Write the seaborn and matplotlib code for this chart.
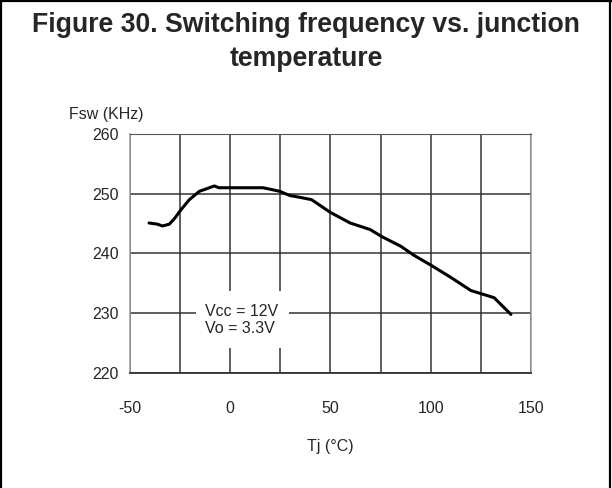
import matplotlib
matplotlib.use("Agg")
import numpy as np
import pandas as pd
import seaborn as sns
import matplotlib.pyplot as plt
from matplotlib.patches import Rectangle
from matplotlib.lines import Line2D

# valores (Tj em °C, Fsw em kHz)
tj = [-40.5, -36.3, -33.8, -30.4, -27.9, -24.6, -20.4, -15.4, -11.2, -7.9, -5.7,
      1.3, 16.3, 20.6, 24.7, 29.7, 34.7, 40.6, 49.8, 59.8, 69.8, 75.7, 85.1,
      91.6, 100.3, 110.0, 120.0, 125.8, 131.6, 140.0]
fsw = [245.1, 244.9, 244.6, 244.9, 245.8, 247.3, 249.0, 250.4, 250.9, 251.3, 251.0,
       251.0, 251.0, 250.7, 250.4, 249.7, 249.4, 249.0, 246.9, 245.1, 244.0, 242.8, 241.2,
       239.7, 238.0, 236.0, 233.8, 233.2, 232.6, 229.8]

xticks = [-50, 0, 50, 100, 150]
yticks = [220, 230, 240, 250, 260]

dados = pd.DataFrame({"Tj": tj, "Fsw": fsw})

sns.set_style("white")
plt.rcParams['font.family'] = ['Liberation Sans', 'DejaVu Sans']
plt.rcParams['axes.unicode_minus'] = False  # o original usa hifen simples

fig = plt.figure(figsize=(6.12, 4.88), dpi=100)
ax = fig.add_axes([0.2124, 0.2357, 0.6552, 0.4898])

sns.lineplot(data=dados, x="Tj", y="Fsw", ax=ax, color="black", linewidth=2.2, zorder=3)

ax.set_xlim(-50, 150)
ax.set_ylim(220, 260)
ax.set_xticks(xticks)
ax.set_xticks(np.arange(-50, 151, 25), minor=True)
ax.set_yticks(yticks)
ax.set_axisbelow(True)
ax.grid(True, which="both", color="#333333", linewidth=1.1)
ax.tick_params(axis="x", which="major", direction="out", length=5, width=1,
               color="#333333", pad=15, labelsize=11.5)
ax.tick_params(axis="x", which="minor", length=0)
ax.tick_params(axis="y", length=0, pad=8, labelsize=11.5)

for lado in ["left", "right"]:
    ax.spines[lado].set_color("#999999")
    ax.spines[lado].set_linewidth(1.1)
ax.spines["top"].set_color("#555555")
ax.spines["bottom"].set_color("#333333")
ax.spines["bottom"].set_linewidth(1.3)

# caixa branca com as condicoes de teste, cortando a grade
ax.add_patch(Rectangle((-17, 224.1), 46.4, 9.7, facecolor="white",
                       edgecolor="none", zorder=1.5))
ax.text(-12.4, 228.8, "Vcc = 12V\nVo = 3.3V", ha="left", va="center",
        fontsize=11.5, linespacing=1.15, zorder=4)

ax.set_xlabel("Tj (°C)", fontsize=11.5)
ax.xaxis.set_label_coords(0.5, -0.275)
ax.set_ylabel("")
fig.text(106 / 612, 1 - 114 / 488, "Fsw (KHz)", ha="center", va="center", fontsize=11.5)

fig.text(0.5, 1 - 42 / 488, "Figure 30. Switching frequency vs. junction\ntemperature",
         ha="center", va="center", fontsize=19.2, fontweight="bold", linespacing=1.45)

# moldura preta em volta da figura
for coords in [([0.002, 0.002], [0, 1]), ([0, 1], [0.998, 0.998]), ([0.997, 0.997], [0, 1])]:
    fig.add_artist(Line2D(coords[0], coords[1], color="black", linewidth=1.6,
                          transform=fig.transFigure))

plt.savefig("out.png", dpi=100)
